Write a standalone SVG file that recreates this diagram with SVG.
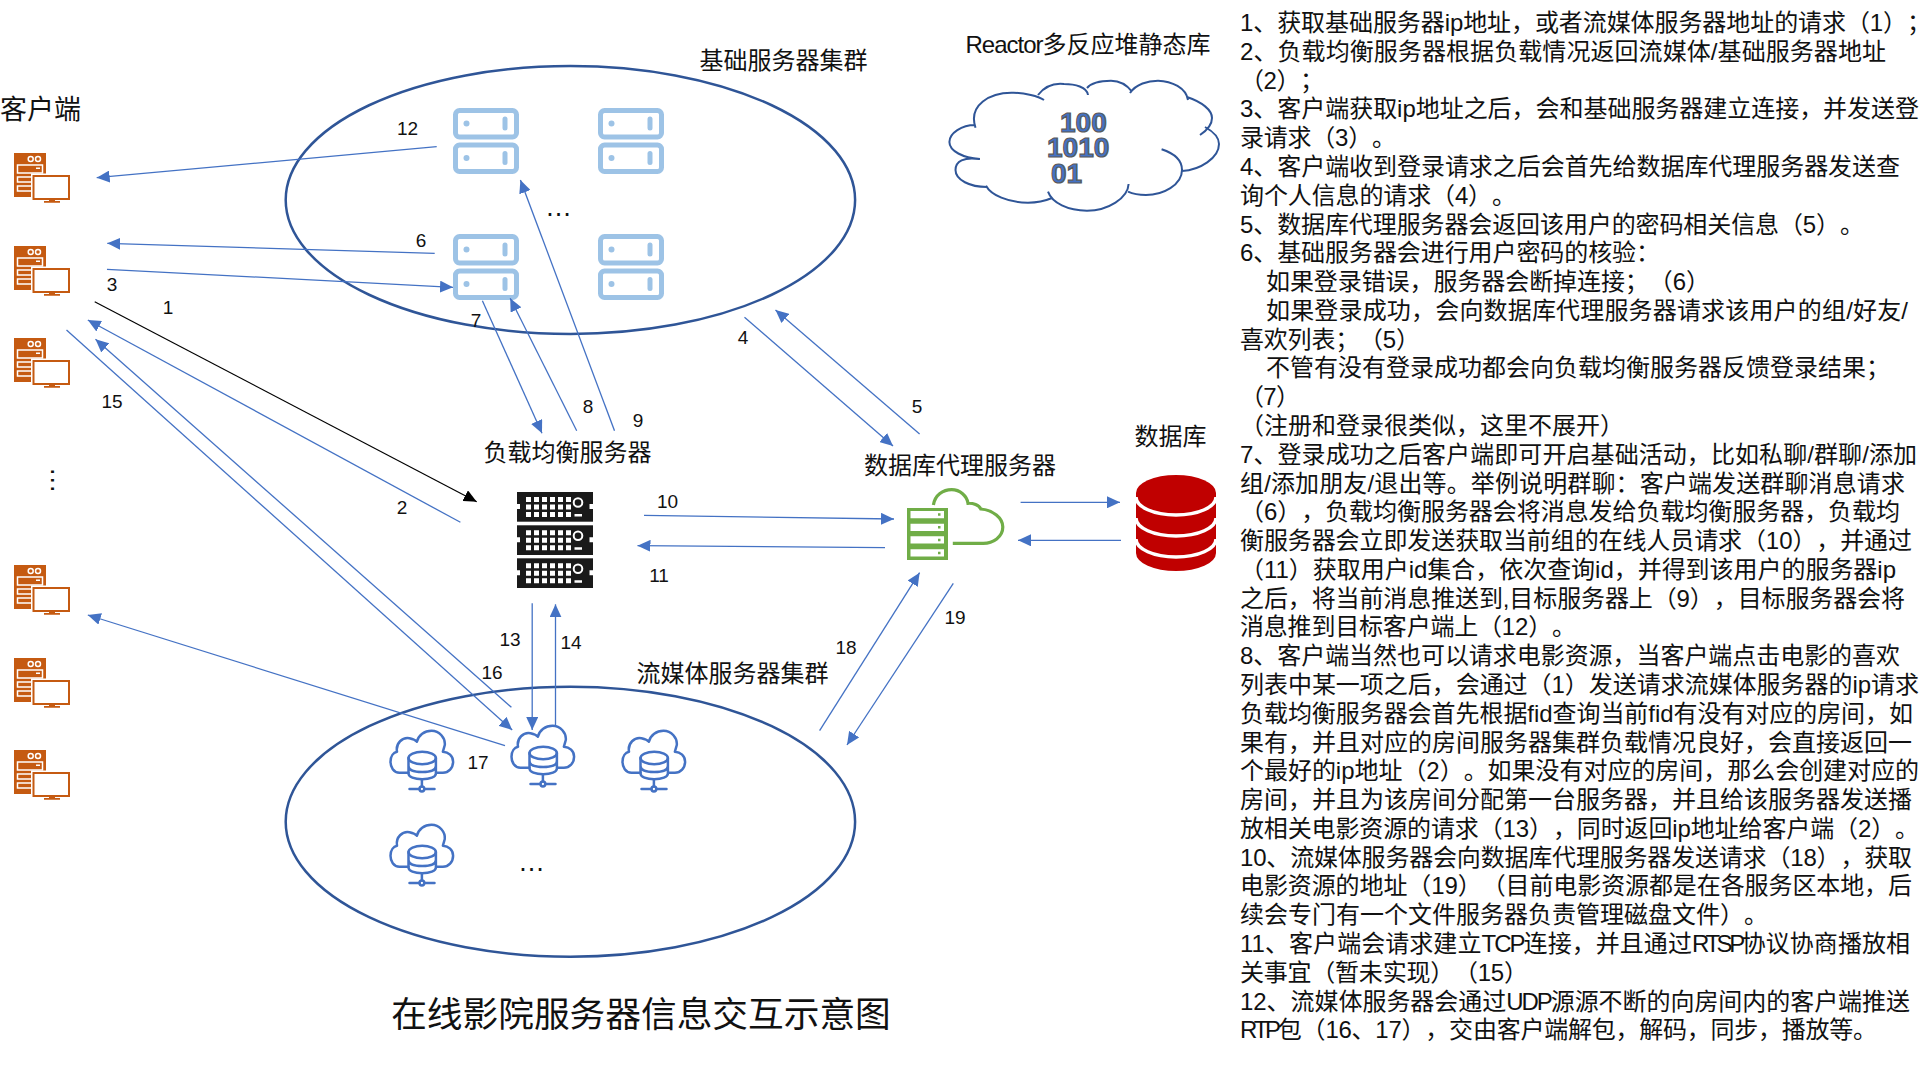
<svg xmlns="http://www.w3.org/2000/svg" width="1920" height="1080" viewBox="0 0 1920 1080">
<style>
text{font-family:"Liberation Sans","Noto Sans CJK SC","Noto Sans",sans-serif;fill:#111;text-spacing-trim:space-all;text-autospace:no-autospace}
.cn{font-size:24px;text-anchor:middle}
.n{font-size:19px;text-anchor:middle}
.dots{font-size:27px;text-anchor:middle}
.body{font-size:24px}
.ring{fill:none;stroke:#2F5597;stroke-width:2.5}
.cloudline{fill:none;stroke:#2F5597;stroke-width:2}
.bin{font-family:"Liberation Sans",sans-serif;font-size:28px;font-weight:700;fill:#4472C4;stroke:#595959;stroke-width:1.2}
.c{fill:none;stroke:#4472C4;stroke-width:1.3}
.k{fill:none;stroke:#000;stroke-width:1.2}
.su{fill:#fff;stroke:#9DC3E6;stroke-width:5}
.sd{fill:#9DC3E6}
.md{fill:none;stroke:#4472C4;stroke-width:2.5;stroke-linecap:round;stroke-linejoin:round}
</style>
<defs>
<marker id="a" markerUnits="userSpaceOnUse" markerWidth="14" markerHeight="12" refX="13" refY="6" orient="auto"><path d="M0,0L13,6L0,12z" fill="#4472C4"/></marker>
<marker id="b" markerUnits="userSpaceOnUse" markerWidth="14" markerHeight="12" refX="13" refY="6" orient="auto"><path d="M0,0L13,6L0,12z" fill="#000"/></marker>
<g id="client">
<rect x="0" y="0" width="32" height="44" fill="#C55A11"/>
<circle cx="16.7" cy="6" r="2.5" fill="#C55A11" stroke="#fff" stroke-width="1.5"/>
<circle cx="24" cy="6" r="2.5" fill="#C55A11" stroke="#fff" stroke-width="1.5"/>
<rect x="3.5" y="12" width="25" height="8" fill="#C55A11" stroke="#fff" stroke-width="1.5"/>
<rect x="22" y="14.5" width="4" height="1.5" fill="#fff"/>
<rect x="3.5" y="24" width="16" height="5" fill="#C55A11" stroke="#fff" stroke-width="1.5"/>
<rect x="3.5" y="33" width="16" height="5" fill="#C55A11" stroke="#fff" stroke-width="1.5"/>
<rect x="17" y="20.5" width="40" height="28" fill="#fff"/>
<rect x="19.5" y="23" width="35.5" height="23" fill="#fff" stroke="#C55A11" stroke-width="2"/>
<path d="M35,46h6v2h5v1.7h-16v-1.7h5z" fill="#C55A11"/>
</g>
<g id="srv">
<rect x="2.5" y="2.5" width="61" height="26.5" rx="4" class="su"/>
<rect x="2.5" y="37" width="61" height="26.5" rx="4" class="su"/>
<circle cx="13.5" cy="15.5" r="3" class="sd"/>
<circle cx="13.5" cy="50" r="3" class="sd"/>
<rect x="49.5" y="8.5" width="5" height="14" rx="2.5" class="sd"/>
<rect x="49.5" y="43" width="5" height="14" rx="2.5" class="sd"/>
</g>
<g id="rack">
<rect width="76" height="29.7" fill="#1a1a1a"/>
<path fill="#fff" d="M-.5,12h3.500v5h-3.500zM72.500,12h4v5h-4z
M9,5h5v5h-5zM17,5h5v5h-5zM25,5h5v5h-5zM33,5h5v5h-5zM41,5h5v5h-5zM49,5h5v5h-5z
M9,12.500h5v5h-5zM17,12.500h5v5h-5zM25,12.500h5v5h-5zM33,12.500h5v5h-5zM41,12.500h5v5h-5zM49,12.500h5v5h-5z
M9,20h5v5h-5zM17,20h5v5h-5zM25,20h5v5h-5zM33,20h5v5h-5zM41,20h5v5h-5zM49,20h5v5h-5z
M57.500,22h7.500v2.500h-7.500z"/>
<circle cx="61" cy="10.500" r="4.300" fill="none" stroke="#fff" stroke-width="2"/>
</g>
<g id="media">
<path class="md" d="M18,42.700H9C3,42.700 0,37 0,31.700C0,26 3,22.500 6.500,21.700C5,13 12,7 19,8.300C22,9 25,10 26.400,11.700C28,5 34,.7 41,.7C49,.7 55,8 54.300,15L52.400,21.700C58,22 62.600,26 62.600,31.700C62.600,38 58,42.700 52.400,42.700H46"/>
<ellipse class="md" cx="31.700" cy="28" rx="13.700" ry="6.300"/>
<path class="md" d="M18,28V43.500C18,47 24,49.300 31.700,49.300S45.400,47 45.400,43.500V28M18,36C18,40 24,42 31.700,42S45.400,40 45.400,36"/>
<path class="md" d="M31.400,49.300V56.500M19,59H28.900M33.900,59H44"/>
<circle class="md" cx="31.400" cy="59" r="2.400"/>
</g>
</defs>

<rect width="1920" height="1080" fill="#fff"/>

<g id="cluster-base">
<ellipse class="ring" cx="570.400" cy="200" rx="284.700" ry="134"/>
<text class="cn" x="783.500" y="68.500">基础服务器集群</text>
<text class="dots" x="558.500" y="215.500">…</text>
</g>
<g id="cluster-media">
<ellipse class="ring" cx="570.400" cy="821.700" rx="284.700" ry="135"/>
<text class="cn" x="732.500" y="682">流媒体服务器集群</text>
<text class="dots" x="531.600" y="870.500">…</text>
</g>

<g id="clients">
<text x="0" y="119" style="font-size:27px">客户端</text>
<use id="client-1" href="#client" x="14" y="153"/>
<use id="client-2" href="#client" x="14" y="246"/>
<use id="client-3" href="#client" x="14" y="338"/>
<text class="dots" transform="translate(53.500,480.300) rotate(90)" x="0" y="0" dy="3">…</text>
<use id="client-4" href="#client" x="14" y="565"/>
<use id="client-5" href="#client" x="14" y="658"/>
<use id="client-6" href="#client" x="14" y="750"/>
</g>

<g id="base-servers">
<use id="base-1" href="#srv" x="453" y="108"/>
<use id="base-2" href="#srv" x="598" y="108"/>
<use id="base-3" href="#srv" x="453" y="234"/>
<use id="base-4" href="#srv" x="598" y="234"/>
</g>

<g id="media-servers">
<use id="media-1" href="#media" x="390.500" y="730"/>
<use id="media-2" href="#media" x="511.500" y="725"/>
<use id="media-3" href="#media" x="622.500" y="730"/>
<use id="media-4" href="#media" x="390.500" y="824"/>
</g>

<g id="load-balancer">
<text class="cn" x="567.500" y="461">负载均衡服务器</text>
<use href="#rack" x="517" y="492"/>
<use href="#rack" x="517" y="525.300"/>
<use href="#rack" x="517" y="558.300"/>
</g>

<g id="db-proxy">
<text class="cn" x="960" y="474">数据库代理服务器</text>
<rect x="907" y="508" width="41" height="52" fill="#70AD47"/>
<path fill="#fff" d="M910.500,511h33.500v7.300h-33.500zM910.500,523.700h33.500v7.300h-33.500zM910.500,536.300h33.500v7.300h-33.500zM910.500,549.300h33.500v7.300h-33.500z"/>
<path fill="#70AD47" d="M938,513.200h2.500v2.500h-2.500zM938,526h2.500v2.500h-2.500zM938,538.700h2.500v2.500h-2.500zM938,551.700h2.500v2.500h-2.500z"/>
<path fill="none" stroke="#70AD47" stroke-width="3.200" d="M933.400,505C935,495 943,489.700 951.700,489.700C960,489.700 967,496 968,503.300C973,503 979,505 980.800,509C993,510 1002.800,518 1002.800,527C1002.800,537 993,543.300 983.300,543.300H952.800"/>
</g>

<g id="database">
<text class="cn" x="1170.500" y="445">数据库</text>
<path fill="#C00000" d="M1136,493A40,18 0 0 1 1216,493V553A40,18 0 0 1 1136,553z"/>
<path fill="none" stroke="#fff" stroke-width="3.500" d="M1136,497A40,18 0 0 0 1216,497M1136,518A40,18 0 0 0 1216,518M1136,539A40,18 0 0 0 1216,539"/>
</g>

<g id="reactor-library">
<text x="965.500" y="53" style="font-size:24px"><tspan letter-spacing="-1">Reactor</tspan>多反应堆静态库</text>
<path class="cloudline" d="M975.500,127.700C968,105 990,92 1013.500,92.700C1025,93 1038,96 1044,100M1038,95C1045,86 1055,83 1064,84C1075,84 1087,87 1088,95M1087,88C1092,82 1103,80.700 1111,80.700C1120,80.700 1127,85 1132,91.700M1130,93C1136,84 1148,80.700 1158,80.700C1172,81 1186,88 1188,100M1187,97C1202,102 1212,110 1212,118C1212,125 1206,131 1200,135M1205,127C1214,132 1219,137 1219,144C1219,158 1200,170 1182,171M1161.600,149.300C1173,153 1182,160 1182,170C1182,185 1163,195 1146,195C1139,195 1133,194 1128,191.700M1128.600,184C1128,198 1108,210.700 1087,210.700C1068,210.700 1052,203 1048,191.700M1052,198C1045,201 1037,202.700 1028,202.700C1008,202.700 991,195 986,185.700M987,187C970,187 955.500,180 955.500,170C955.500,161 964,157 979,159M980,159C963,158 949.400,151 949.400,142C949.400,133 962,125 975,125"/>
<text class="bin" x="1060" y="132">100</text>
<text class="bin" x="1047" y="157">1010</text>
<text class="bin" x="1051" y="182.500">01</text>
</g>

<g id="connectors">
<line class="c" x1="436.700" y1="146.700" x2="96.700" y2="177.700" marker-end="url(#a)"/>
<line class="c" x1="434.700" y1="253.300" x2="107.300" y2="243.300" marker-end="url(#a)"/>
<line class="c" x1="107" y1="269.300" x2="453" y2="287.300" marker-end="url(#a)"/>
<line class="k" x1="94.700" y1="301.700" x2="476.700" y2="501.700" marker-end="url(#b)"/>
<line class="c" x1="460.400" y1="522.300" x2="87.800" y2="320" marker-end="url(#a)"/>
<line class="c" x1="66.500" y1="330" x2="512.200" y2="730" marker-end="url(#a)"/>
<line class="c" x1="511.400" y1="707.300" x2="95.500" y2="339.300" marker-end="url(#a)"/>
<line class="c" x1="505" y1="745.700" x2="87.800" y2="615" marker-end="url(#a)"/>
<line class="c" x1="532.200" y1="603.300" x2="532.200" y2="730" marker-end="url(#a)"/>
<line class="c" x1="555.500" y1="725" x2="555.500" y2="604.300" marker-end="url(#a)"/>
<line class="c" x1="614.500" y1="430.700" x2="520.400" y2="180" marker-end="url(#a)"/>
<line class="c" x1="576.700" y1="430.700" x2="510.200" y2="298.300" marker-end="url(#a)"/>
<line class="c" x1="482.400" y1="300.700" x2="542" y2="433.300" marker-end="url(#a)"/>
<line class="c" x1="744.500" y1="317.300" x2="893" y2="446" marker-end="url(#a)"/>
<line class="c" x1="919.600" y1="434" x2="775.500" y2="310" marker-end="url(#a)"/>
<line class="c" x1="644" y1="515.300" x2="894" y2="519" marker-end="url(#a)"/>
<line class="c" x1="885" y1="547.700" x2="637.500" y2="545.700" marker-end="url(#a)"/>
<line class="c" x1="1020.600" y1="502.300" x2="1120" y2="502.300" marker-end="url(#a)"/>
<line class="c" x1="1121" y1="540.300" x2="1018" y2="540.300" marker-end="url(#a)"/>
<line class="c" x1="819.600" y1="730.700" x2="919.600" y2="572.700" marker-end="url(#a)"/>
<line class="c" x1="953.300" y1="583.300" x2="847" y2="745" marker-end="url(#a)"/>
</g>

<g id="connector-labels">
<text class="n" x="407.600" y="135">12</text>
<text class="n" x="421" y="246.700">6</text>
<text class="n" x="112" y="291">3</text>
<text class="n" x="168" y="314">1</text>
<text class="n" x="476" y="326.700">7</text>
<text class="n" x="588" y="412.700">8</text>
<text class="n" x="638" y="427">9</text>
<text class="n" x="112" y="408">15</text>
<text class="n" x="402" y="514">2</text>
<text class="n" x="743" y="344">4</text>
<text class="n" x="917" y="413">5</text>
<text class="n" x="667.500" y="508">10</text>
<text class="n" x="659" y="582">11</text>
<text class="n" x="510" y="646">13</text>
<text class="n" x="571" y="649">14</text>
<text class="n" x="492" y="679">16</text>
<text class="n" x="478" y="769">17</text>
<text class="n" x="846" y="654">18</text>
<text class="n" x="955" y="623.700">19</text>
</g>

<text id="caption" x="641" y="1027" text-anchor="middle" style="font-size:35.700px">在线影院服务器信息交互示意图</text>

<g id="notes" class="body">
<text class="body" x="1240" y="31" textLength="691">1、获取基础服务器ip地址，或者流媒体服务器地址的请求（1）；</text>
<text class="body" x="1240" y="59.800" textLength="646">2、负载均衡服务器根据负载情况返回流媒体/基础服务器地址</text>
<text class="body" x="1240" y="88.600" textLength="84">（2）；</text>
<text class="body" x="1240" y="117.300" textLength="679">3、客户端获取ip地址之后，会和基础服务器建立连接，并发送登</text>
<text class="body" x="1240" y="146.100" textLength="156">录请求（3）。</text>
<text class="body" x="1240" y="174.900" textLength="660">4、客户端收到登录请求之后会首先给数据库代理服务器发送查</text>
<text class="body" x="1240" y="203.700" textLength="276">询个人信息的请求（4）。</text>
<text class="body" x="1240" y="232.500" textLength="624">5、数据库代理服务器会返回该用户的密码相关信息（5）。</text>
<text class="body" x="1240" y="261.200" textLength="420">6、基础服务器会进行用户密码的核验：</text>
<text class="body" x="1266" y="290" textLength="444">如果登录错误，服务器会断掉连接；（6）</text>
<text class="body" x="1266" y="318.800" textLength="642">如果登录成功，会向数据库代理服务器请求该用户的组/好友/</text>
<text class="body" x="1240" y="347.600" textLength="180">喜欢列表；（5）</text>
<text class="body" x="1266" y="376.400">不管有没有登录成功都会向负载均衡服务器反馈登录结果；</text>
<text class="body" x="1240" y="405.100" textLength="60">（7）</text>
<text class="body" x="1240" y="433.900">（注册和登录很类似，这里不展开）</text>
<text class="body" x="1240" y="462.700" textLength="677">7、登录成功之后客户端即可开启基础活动，比如私聊/群聊/添加</text>
<text class="body" x="1240" y="491.500" textLength="665">组/添加朋友/退出等。举例说明群聊：客户端发送群聊消息请求</text>
<text class="body" x="1240" y="520.300" textLength="660">（6），负载均衡服务器会将消息发给负载均衡服务器，负载均</text>
<text class="body" x="1240" y="549" textLength="672">衡服务器会立即发送获取当前组的在线人员请求（10），并通过</text>
<text class="body" x="1240" y="577.800" textLength="656">（11）获取用户id集合，依次查询id，并得到该用户的服务器ip</text>
<text class="body" x="1240" y="606.600" textLength="665">之后，将当前消息推送到,目标服务器上（9），目标服务器会将</text>
<text class="body" x="1240" y="635.400" textLength="336">消息推到目标客户端上（12）。</text>
<text class="body" x="1240" y="664.200" textLength="660">8、客户端当然也可以请求电影资源，当客户端点击电影的喜欢</text>
<text class="body" x="1240" y="692.900" textLength="679">列表中某一项之后，会通过（1）发送请求流媒体服务器的ip请求</text>
<text class="body" x="1240" y="721.700" textLength="673">负载均衡服务器会首先根据fid查询当前fid有没有对应的房间，如</text>
<text class="body" x="1240" y="750.500">果有，并且对应的房间服务器集群负载情况良好，会直接返回一</text>
<text class="body" x="1240" y="779.300" textLength="679">个最好的ip地址（2）。如果没有对应的房间，那么会创建对应的</text>
<text class="body" x="1240" y="808.100">房间，并且为该房间分配第一台服务器，并且给该服务器发送播</text>
<text class="body" x="1240" y="836.800" textLength="679">放相关电影资源的请求（13），同时返回ip地址给客户端（2）。</text>
<text class="body" x="1240" y="865.600" textLength="672">10、流媒体服务器会向数据库代理服务器发送请求（18），获取</text>
<text class="body" x="1240" y="894.400" textLength="672">电影资源的地址（19）（目前电影资源都是在各服务区本地，后</text>
<text class="body" x="1240" y="923.200">续会专门有一个文件服务器负责管理磁盘文件）。</text>
<text class="body" x="1240" y="952" textLength="670">11、客户端会请求建立<tspan letter-spacing="-2">TCP</tspan>连接，并且通过<tspan letter-spacing="-3.500">RTSP</tspan>协议协商播放相</text>
<text class="body" x="1240" y="980.700" textLength="288">关事宜（暂未实现）（15）</text>
<text class="body" x="1240" y="1009.500" textLength="670">12、流媒体服务器会通过<tspan letter-spacing="-2">UDP</tspan>源源不断的向房间内的客户端推送</text>
<text class="body" x="1240" y="1038.300" textLength="637"><tspan letter-spacing="-3">RTP</tspan>包（16、17），交由客户端解包，解码，同步，播放等。</text>
</g>
</svg>
